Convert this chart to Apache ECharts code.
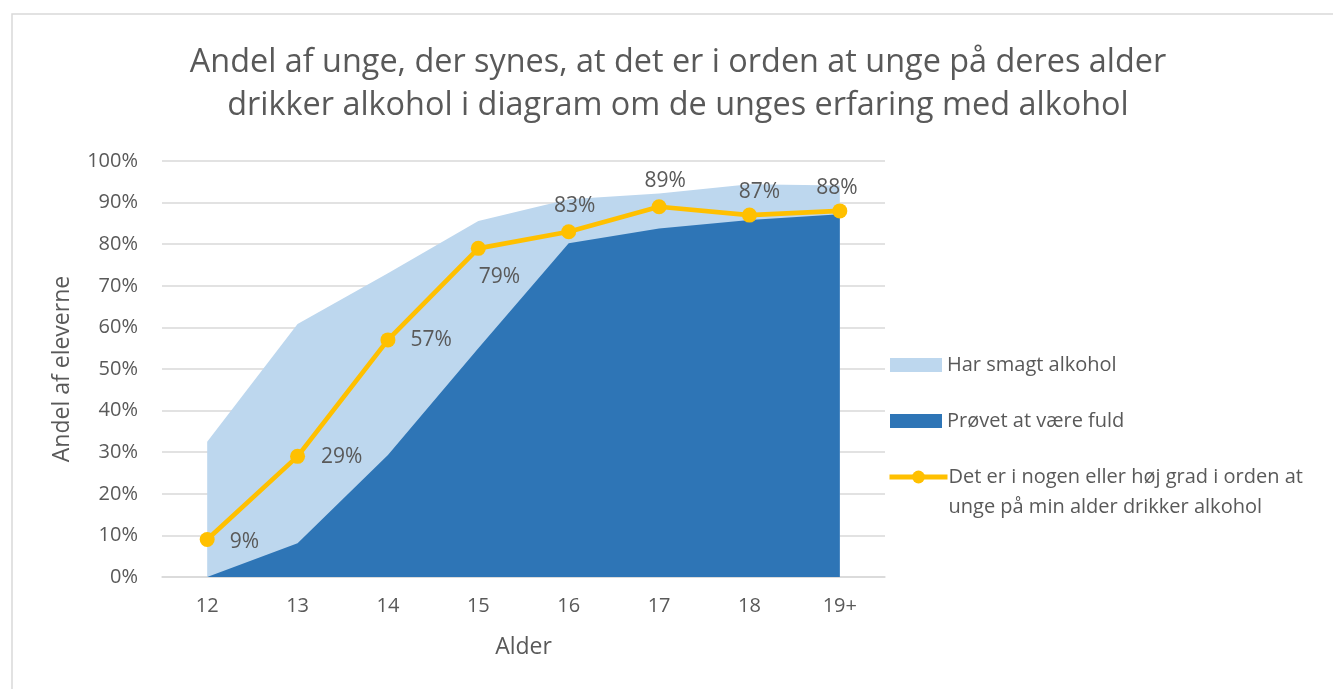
<!DOCTYPE html>
<html>
<head>
<meta charset="utf-8">
<script src="https://cdn.jsdelivr.net/npm/echarts@6/dist/echarts.min.js"></script>
<style>
  html, body { margin: 0; padding: 0; background: #ffffff; }
  #chart { width: 1333px; height: 689px; }
</style>
</head>
<body>
<div id="chart"></div>
<script>
// Age groups on the x axis
const ages = ['12', '13', '14', '15', '16', '17', '18', '19+'];
// Share of pupils who have tasted alcohol (%)
const tastedAlcohol = [32.5, 60.8, 73.0, 85.6, 90.8, 92.2, 94.4, 94.1];
// Share of pupils who have been drunk (%)
const beenDrunk = [0, 8.1, 29.3, 55.0, 80.2, 83.8, 85.8, 87.2];
// Share who think it is okay for people their age to drink (%)
const thinksOkay = [9, 29, 57, 79, 83, 89, 87, 88];

// Placement of each value label around its point
const labelLayout = [
  { position: 'right', distance: 15, offset: [0, 2] },
  { position: 'right', distance: 16, offset: [0, 1] },
  { position: 'right', distance: 15, offset: [0, 0] },
  { position: 'bottom', distance: 11, offset: [21, 0] },
  { position: 'top', distance: 8, offset: [6, 0] },
  { position: 'top', distance: 8, offset: [6, 0] },
  { position: 'top', distance: 5, offset: [10, 0] },
  { position: 'top', distance: 5, offset: [-3, 0] }
];

const FONT = "'Open Sans', 'Noto Sans', sans-serif";
const TEXT = '#595959';
const LINE_NAME = 'Det er i nogen eller høj grad i orden at\nunge på min alder drikker alkohol';

const chart = echarts.init(document.getElementById('chart'), null, { renderer: 'canvas' });

const lineData = thinksOkay.map((v, i) => ({ value: v, label: labelLayout[i] }));

chart.setOption({
  animation: false,
  backgroundColor: '#ffffff',
  textStyle: { fontFamily: FONT },
  graphic: [{
    type: 'rect',
    shape: { x: 12, y: 14, width: 1400, height: 800 },
    style: { fill: 'none', stroke: '#d9d9d9', lineWidth: 1.5 },
    silent: true,
    z: -10
  }],
  title: {
    text: 'Andel af unge, der synes, at det er i orden at unge på deres alder\ndrikker alkohol i diagram om de unges erfaring med alkohol',
    left: 673,
    textAlign: 'center',
    top: 36,
    textStyle: {
      fontFamily: FONT,
      fontSize: 32.4,
      fontWeight: 'normal',
      color: TEXT,
      lineHeight: 43
    }
  },
  grid: { left: 162, right: 448, top: 161, bottom: 112, containLabel: false },
  legend: [{
    data: [{ name: 'Har smagt alkohol', icon: 'rect' }],
    left: 890,
    top: 355,
    padding: 0,
    itemWidth: 52,
    itemHeight: 14,
    selectedMode: false,
    textStyle: { fontFamily: FONT, fontSize: 20, color: TEXT, lineHeight: 14 }
  }, {
    data: [{ name: 'Prøvet at være fuld', icon: 'rect' }],
    left: 890,
    top: 411,
    padding: 0,
    itemWidth: 52,
    itemHeight: 14,
    selectedMode: false,
    textStyle: { fontFamily: FONT, fontSize: 20, color: TEXT, lineHeight: 14 }
  }, {
    data: [{ name: LINE_NAME }],
    left: 887,
    top: 432,
    padding: 0,
    itemWidth: 58,
    itemHeight: 16,
    selectedMode: false,
    lineStyle: { width: 5 },
    formatter: name => '\n' + name,
    textStyle: { fontFamily: FONT, fontSize: 20, color: TEXT, lineHeight: 30, padding: [0, 0, 0, -4] }
  }],
  xAxis: {
    type: 'category',
    data: ages,
    boundaryGap: true,
    name: 'Alder',
    nameLocation: 'middle',
    nameGap: 59,
    nameTextStyle: { fontFamily: FONT, fontSize: 23, color: TEXT },
    axisLine: { show: true, lineStyle: { color: '#d9d9d9', width: 1.5 } },
    axisTick: { show: false },
    axisLabel: { fontFamily: FONT, fontSize: 20, color: TEXT, margin: 19 }
  },
  yAxis: {
    type: 'value',
    min: 0,
    max: 100,
    interval: 10,
    name: 'Andel af eleverne',
    nameLocation: 'middle',
    nameGap: 88,
    nameRotate: 90,
    nameTextStyle: { fontFamily: FONT, fontSize: 23, color: TEXT },
    axisLine: { show: false },
    axisTick: { show: false },
    axisLabel: { fontFamily: FONT, fontSize: 20, color: TEXT, margin: 24, formatter: '{value}%' },
    splitLine: { lineStyle: { color: '#d9d9d9', width: 1.5 } }
  },
  series: [{
    name: 'Har smagt alkohol',
    type: 'line',
    data: tastedAlcohol,
    symbol: 'none',
    lineStyle: { width: 0 },
    itemStyle: { color: '#BDD7EE' },
    areaStyle: { color: '#BDD7EE', opacity: 1 },
    z: 1
  }, {
    name: 'Prøvet at være fuld',
    type: 'line',
    data: beenDrunk,
    symbol: 'none',
    lineStyle: { width: 0 },
    itemStyle: { color: '#2E75B6' },
    areaStyle: { color: '#2E75B6', opacity: 1 },
    z: 2
  }, {
    name: LINE_NAME,
    type: 'line',
    data: lineData,
    symbol: 'circle',
    symbolSize: 15,
    lineStyle: { color: '#FFC000', width: 4.7 },
    itemStyle: { color: '#FFC000' },
    label: {
      show: true,
      formatter: '{c}%',
      fontFamily: FONT,
      fontSize: 21,
      color: TEXT
    },
    z: 5
  }]
});
</script>
</body>
</html>
